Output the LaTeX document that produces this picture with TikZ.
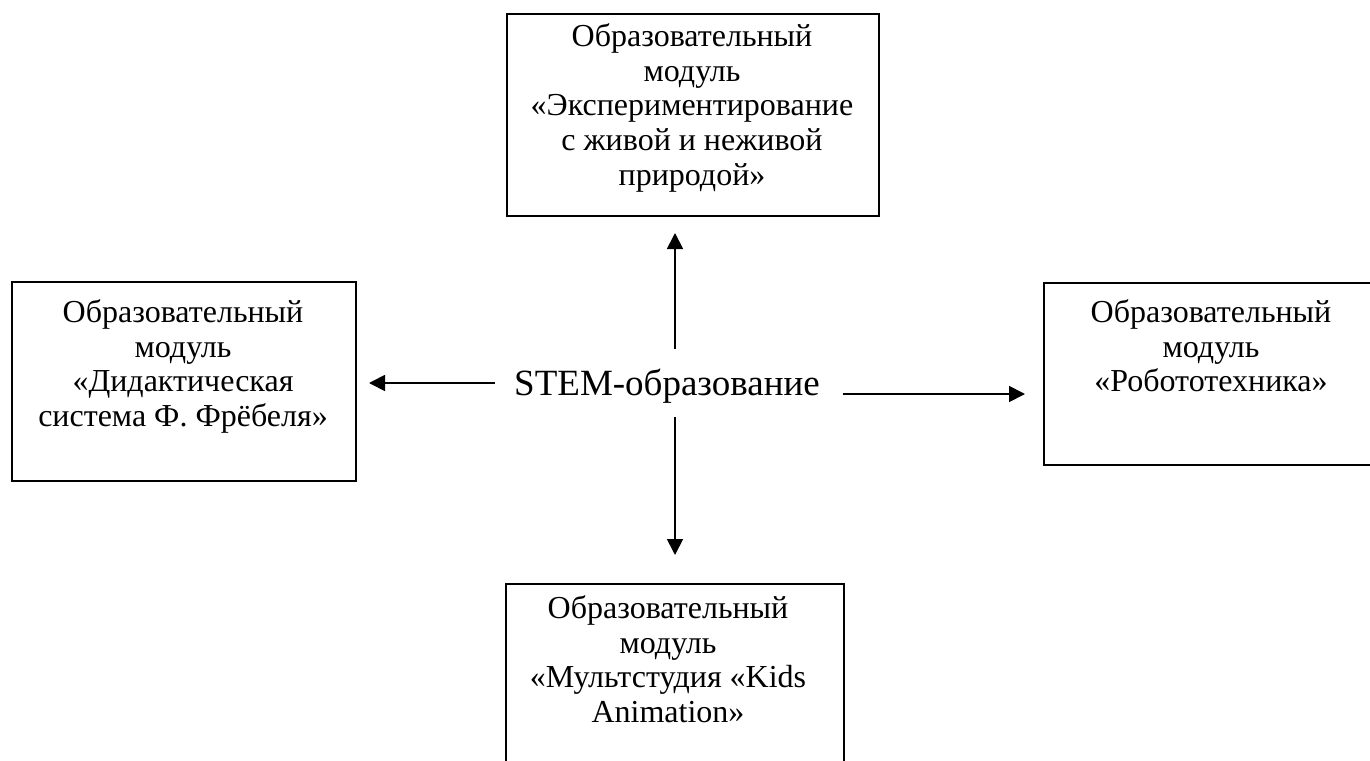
\documentclass[tikz,border=0pt]{standalone}
\usepackage{fontspec}
\setmainfont{Liberation Serif}
\usetikzlibrary{arrows.meta}
\tikzset{
  boxframe/.style={draw=black, line width=1pt, inner sep=0pt, fill=none},
  boxtext/.style={align=center, inner sep=0pt, anchor=north, font=\fontsize{16}{17.4}\selectfont},
  stemtext/.style={inner sep=0pt, anchor=base, font=\fontsize{18.5}{22}\selectfont},
  arr/.style={line width=0.9pt, -{Triangle[length=8pt,width=8pt]}}
}
\begin{document}
\begin{tikzpicture}[x=0.5pt,y=-0.5pt]
\useasboundingbox (0,0) rectangle (1370,760);
\clip (0,0) rectangle (1370,760);
% boxes
\node[boxframe, anchor=north west, minimum width=186pt, minimum height=101pt] (topbox) at (506,13) {};
\node[boxframe, anchor=north west, minimum width=172pt, minimum height=99.5pt] (leftbox) at (11,281) {};
\node[boxframe, anchor=north west, minimum width=168pt, minimum height=91pt] (rightbox) at (1043,282) {};
\node[boxframe, anchor=north west, minimum width=169pt, minimum height=100pt] (bottombox) at (505,583) {};
% texts
\node[boxtext] (toptext) at (692,23) {Образовательный\\модуль\\«Экспериментирование\\с живой и неживой\\природой»};
\node[boxtext] (lefttext) at (183,299) {Образовательный\\модуль\\«Дидактическая\\система Ф. Фрёбеля»};
\node[boxtext] (righttext) at (1211,299) {Образовательный\\модуль\\«Робототехника»};
\node[boxtext] (bottomtext) at (668,595) {Образовательный\\модуль\\«Мультстудия «Kids\\Animation»};
\node[stemtext] (stem) at (667,395) {STEM-образование};
% arrow ends
\coordinate (upS) at (675,349);
\coordinate (upE) at (675,233);
\coordinate (leftS) at (495,383);
\coordinate (leftE) at (369,383);
\coordinate (rightS) at (843,394);
\coordinate (rightE) at (1025,394);
\coordinate (downS) at (675,417);
\coordinate (downE) at (675,555);
\draw[arr] (upS) -- (upE);
\draw[arr] (leftS) -- (leftE);
\draw[arr] (rightS) -- (rightE);
\draw[arr] (downS) -- (downE);
\end{tikzpicture}
\end{document}
